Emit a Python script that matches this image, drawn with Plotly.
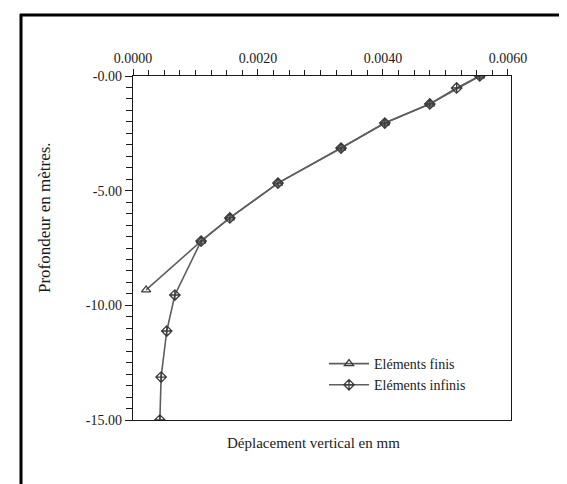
import plotly.graph_objects as go

# Data (x: vertical displacement, y: depth in m)
finis_x = [0.00555, 0.00475, 0.00403, 0.00333, 0.00232, 0.00155, 0.00109, 0.00021]
finis_y = [0.0, -1.22, -2.05, -3.14, -4.67, -6.19, -7.20, -9.33]

infinis_x = [0.00555, 0.00518, 0.00475, 0.00403, 0.00333, 0.00232, 0.00155, 0.00109,
             0.00067, 0.00054, 0.00045, 0.00043]
infinis_y = [0.0, -0.52, -1.22, -2.05, -3.14, -4.67, -6.19, -7.20,
             -9.55, -11.12, -13.13, -15.0]

x_tickvals = [0.0, 0.002, 0.004, 0.006]
x_ticktext = ["0.0000", "0.0020", "0.0040", "0.0060"]
y_tickvals = [0, -5, -10, -15]
y_ticktext = ["-0.00", "-5.00", "-10.00", "-15.00"]

FONT = "Liberation Serif"
INK = "#1a1a1a"
LINE = "#5e5e5e"

fig = go.Figure()
fig.add_trace(go.Scatter(
    x=finis_x, y=finis_y, mode="lines+markers", name="Eléments finis",
    line=dict(color=LINE, width=1.6),
    marker=dict(symbol="triangle-up-open", size=8, color="#3a3a3a", line=dict(width=1.3)),
))
fig.add_trace(go.Scatter(
    x=infinis_x, y=infinis_y, mode="lines+markers", name="Eléments infinis",
    line=dict(color=LINE, width=1.6),
    marker=dict(symbol="diamond-cross-open", size=8, color="#3a3a3a", line=dict(width=1.3)),
))

W, H = 567, 484
L, R, T, B = 125, 503, 68, 412
def px(xp):
    return (xp - L) / (R - L)
def py(yp):
    return (B - yp) / (B - T)

fig.update_layout(
    width=W, height=H,
    margin=dict(l=L, r=W - R, t=T, b=H - B),
    paper_bgcolor="white", plot_bgcolor="white",
    font=dict(family=FONT, size=14, color=INK),
    showlegend=True,
    legend=dict(x=px(316), y=py(340), xanchor="left", yanchor="top",
                bgcolor="rgba(0,0,0,0)", font=dict(family=FONT, size=14, color=INK),
                tracegroupgap=0, itemwidth=40),
    xaxis=dict(
        side="top", range=[0, 0.00605], tickvals=x_tickvals, ticktext=x_ticktext,
        ticks="outside", ticklen=6, tickwidth=1.2, tickcolor=INK,
        minor=dict(dtick=0.00025, ticks="outside", ticklen=5, tickcolor=INK),
        showgrid=False, zeroline=False,
        showline=True, linecolor=INK, linewidth=1.4, mirror=True,
        tickfont=dict(family=FONT, size=14, color=INK),
    ),
    yaxis=dict(
        range=[-15, 0], tickvals=y_tickvals, ticktext=y_ticktext,
        ticks="outside", ticklen=7, tickwidth=1.2, tickcolor=INK,
        minor=dict(dtick=0.5, ticks="outside", ticklen=6, tickcolor=INK),
        showgrid=False, zeroline=False,
        showline=True, linecolor=INK, linewidth=1.4, mirror=True,
        tickfont=dict(family=FONT, size=14, color=INK),
    ),
    annotations=[
        dict(text="Déplacement vertical en mm", x=px(305), y=py(435), xref="paper", yref="paper",
             showarrow=False, xanchor="center", yanchor="middle",
             font=dict(family=FONT, size=15, color=INK)),
        dict(text="Profondeur en mètres.", x=px(37), y=py(210), xref="paper", yref="paper",
             showarrow=False, xanchor="center", yanchor="middle", textangle=-90,
             font=dict(family=FONT, size=17, color=INK)),
    ],
    shapes=[
        dict(type="line", xref="paper", yref="paper", x0=px(12), x1=px(567), y0=py(7), y1=py(7),
             line=dict(color="black", width=3)),
        dict(type="line", xref="paper", yref="paper", x0=px(13), x1=px(13), y0=py(6), y1=py(484),
             line=dict(color="black", width=3)),
    ],
)

fig.write_html("out.html")
